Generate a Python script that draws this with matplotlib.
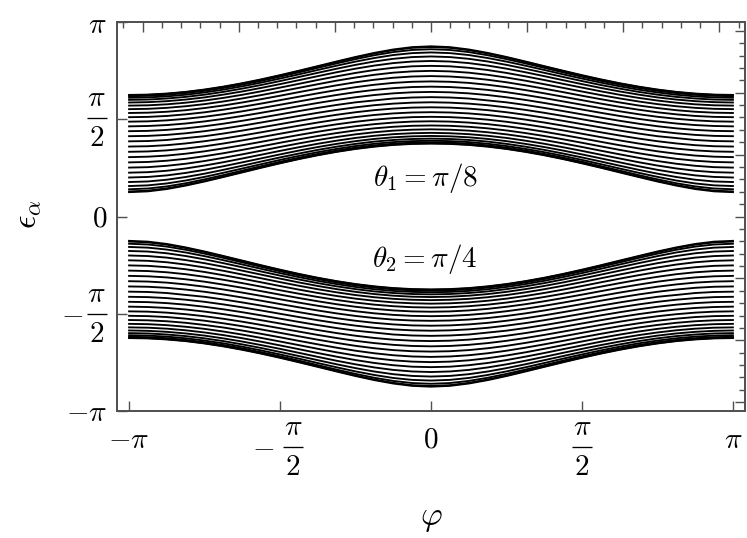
import numpy as np
import matplotlib.pyplot as plt
from matplotlib.ticker import MultipleLocator
from matplotlib.transforms import offset_copy

plt.rcParams['mathtext.fontset'] = 'cm'
plt.rcParams['font.family'] = 'DejaVu Serif'

# phi nodes from 0 to pi in steps of pi/16 (every line is even in phi, mirrored below)
phi_nodes = np.array([0, 1, 2, 3, 4, 5, 6, 7, 8, 9, 10, 11, 12, 13, 14, 15, 16]) * np.pi / 16

# epsilon of each line of the upper band, read at the phi nodes
upper_band = [
    [1.178, 1.172, 1.156, 1.128, 1.091, 1.044, 0.989, 0.927, 0.859, 0.787, 0.712, 0.638, 0.565, 0.499, 0.443, 0.406, 0.393],
    [1.183, 1.178, 1.161, 1.134, 1.096, 1.049, 0.995, 0.933, 0.865, 0.794, 0.720, 0.645, 0.574, 0.509, 0.455, 0.418, 0.405],
    [1.199, 1.193, 1.176, 1.149, 1.112, 1.066, 1.011, 0.950, 0.884, 0.813, 0.741, 0.669, 0.600, 0.537, 0.486, 0.452, 0.440],
    [1.224, 1.218, 1.202, 1.175, 1.138, 1.092, 1.039, 0.979, 0.914, 0.845, 0.775, 0.706, 0.640, 0.581, 0.534, 0.503, 0.492],
    [1.258, 1.252, 1.236, 1.210, 1.173, 1.128, 1.076, 1.017, 0.954, 0.888, 0.820, 0.754, 0.692, 0.638, 0.594, 0.566, 0.557],
    [1.301, 1.295, 1.279, 1.253, 1.217, 1.173, 1.122, 1.065, 1.003, 0.939, 0.875, 0.812, 0.754, 0.704, 0.664, 0.639, 0.630],
    [1.351, 1.345, 1.330, 1.304, 1.269, 1.225, 1.175, 1.119, 1.060, 0.998, 0.937, 0.877, 0.823, 0.776, 0.739, 0.716, 0.708],
    [1.408, 1.402, 1.387, 1.361, 1.327, 1.284, 1.235, 1.181, 1.123, 1.063, 1.004, 0.948, 0.896, 0.852, 0.819, 0.797, 0.790],
    [1.470, 1.465, 1.449, 1.424, 1.390, 1.348, 1.300, 1.247, 1.191, 1.133, 1.076, 1.022, 0.974, 0.932, 0.901, 0.881, 0.874],
    [1.538, 1.533, 1.517, 1.492, 1.458, 1.417, 1.369, 1.317, 1.262, 1.206, 1.151, 1.100, 1.053, 1.014, 0.984, 0.966, 0.959],
    [1.610, 1.605, 1.589, 1.564, 1.530, 1.489, 1.442, 1.391, 1.337, 1.282, 1.229, 1.179, 1.134, 1.097, 1.068, 1.051, 1.045],
    [1.685, 1.680, 1.665, 1.640, 1.606, 1.565, 1.518, 1.467, 1.414, 1.360, 1.308, 1.259, 1.216, 1.180, 1.152, 1.135, 1.130],
    [1.764, 1.759, 1.743, 1.718, 1.684, 1.643, 1.596, 1.545, 1.492, 1.439, 1.388, 1.340, 1.297, 1.267, 1.236, 1.219, 1.214],
    [1.845, 1.839, 1.823, 1.798, 1.763, 1.722, 1.675, 1.624, 1.571, 1.518, 1.467, 1.420, 1.378, 1.344, 1.318, 1.302, 1.297],
    [1.928, 1.922, 1.906, 1.875, 1.844, 1.802, 1.754, 1.703, 1.650, 1.597, 1.546, 1.499, 1.458, 1.424, 1.399, 1.383, 1.378],
    [2.012, 2.006, 1.989, 1.962, 1.926, 1.883, 1.834, 1.782, 1.728, 1.675, 1.624, 1.577, 1.536, 1.502, 1.477, 1.462, 1.456],
    [2.097, 2.091, 2.073, 2.045, 2.008, 1.963, 1.913, 1.859, 1.805, 1.751, 1.699, 1.652, 1.611, 1.578, 1.553, 1.537, 1.532],
    [2.182, 2.176, 2.158, 2.128, 2.089, 2.042, 1.990, 1.935, 1.879, 1.824, 1.772, 1.725, 1.683, 1.650, 1.624, 1.609, 1.604],
    [2.268, 2.261, 2.241, 2.209, 2.168, 2.119, 2.065, 2.009, 1.951, 1.895, 1.842, 1.793, 1.752, 1.717, 1.692, 1.677, 1.672],
    [2.352, 2.344, 2.323, 2.289, 2.245, 2.194, 2.137, 2.078, 2.019, 1.961, 1.907, 1.858, 1.815, 1.781, 1.755, 1.739, 1.734],
    [2.433, 2.426, 2.402, 2.366, 2.319, 2.264, 2.205, 2.143, 2.082, 2.022, 1.966, 1.916, 1.873, 1.838, 1.812, 1.796, 1.791],
    [2.512, 2.503, 2.478, 2.438, 2.388, 2.330, 2.267, 2.202, 2.138, 2.077, 2.020, 1.969, 1.924, 1.889, 1.863, 1.847, 1.841],
    [2.585, 2.575, 2.547, 2.504, 2.449, 2.387, 2.321, 2.254, 2.188, 2.124, 2.066, 2.013, 1.968, 1.932, 1.906, 1.889, 1.884],
    [2.650, 2.639, 2.608, 2.560, 2.502, 2.436, 2.367, 2.296, 2.228, 2.163, 2.103, 2.049, 2.004, 1.967, 1.940, 1.924, 1.918],
    [2.702, 2.690, 2.656, 2.605, 2.542, 2.473, 2.401, 2.328, 2.258, 2.191, 2.130, 2.076, 2.030, 1.993, 1.965, 1.949, 1.943],
    [2.737, 2.724, 2.687, 2.633, 2.568, 2.496, 2.422, 2.348, 2.276, 2.209, 2.147, 2.092, 2.046, 2.008, 1.981, 1.964, 1.958],
    [2.749, 2.736, 2.698, 2.643, 2.577, 2.504, 2.429, 2.355, 2.283, 2.215, 2.153, 2.098, 2.051, 2.013, 1.986, 1.969, 1.964],
]

tick_pos = [-np.pi, -np.pi / 2, 0, np.pi / 2, np.pi]
# (sign, text or None for a pi/2 fraction)
tick_labels = [('-', r'\pi'), ('-', None), ('', '0'), ('', None), ('', r'\pi')]

frame_color = '#505050'
fs = 21

fig = plt.figure(figsize=(7.47, 5.38), dpi=100)
ax = fig.add_axes([117 / 747, 1 - 411 / 538, 628 / 747, 389 / 538])

phi_full = np.concatenate([-phi_nodes[:0:-1], phi_nodes])
for row in upper_band:
    row = np.array(row)
    eps = np.concatenate([row[:0:-1], row])
    ax.plot(phi_full, eps, color='black', lw=1.35)
    # lower band is the mirror image of the upper one
    ax.plot(phi_full, -eps, color='black', lw=1.35)

pad = 0.04 * np.pi
ax.set_xlim(-np.pi - pad, np.pi + pad)
ax.set_ylim(-np.pi, np.pi)

ax.set_xticks(tick_pos)
ax.set_yticks(tick_pos)
ax.set_xticklabels([])
ax.set_yticklabels([])
ax.tick_params(direction='in', length=7, width=1, color=frame_color,
               top=False, right=False)

# unlabelled ticks on top and right
axt = ax.twiny()
axt.set_xlim(ax.get_xlim())
axt.xaxis.set_major_locator(MultipleLocator(1))
axt.xaxis.set_minor_locator(MultipleLocator(0.2))
axt.tick_params(which='both', direction='in', width=1, color=frame_color, labeltop=False)
axt.tick_params(which='major', length=7)
axt.tick_params(which='minor', length=4)

axr = ax.twinx()
axr.set_ylim(ax.get_ylim())
axr.yaxis.set_major_locator(MultipleLocator(1))
axr.yaxis.set_minor_locator(MultipleLocator(0.2))
axr.tick_params(which='both', direction='in', width=1, color=frame_color, labelright=False)
axr.tick_params(which='major', length=7)
axr.tick_params(which='minor', length=4)

for a in (ax, axt, axr):
    for s in a.spines.values():
        s.set_color(frame_color)
        s.set_linewidth(1.1)


def put(x, y, base, dx, dy, s, ha='center'):
    tr = offset_copy(base, fig=fig, x=dx, y=dy, units='dots')
    ax.text(x, y, s, transform=tr, ha=ha, va='center', fontsize=fs)


def frac(x, y, base, dx, dy):
    # pi over 2, stacked Mathematica style
    put(x, y, base, dx, dy + 20, r'$\pi$')
    put(x, y, base, dx, dy - 20, r'$2$')
    tr = offset_copy(base, fig=fig, x=dx, y=dy, units='dots')
    ax.plot([x], [y], marker='_', ms=15, mew=0.95, color='black',
            transform=tr, clip_on=False)


xb = ax.get_xaxis_transform()
yb = ax.get_yaxis_transform()
for t, (sign, txt) in zip(tick_pos, tick_labels):
    # bottom labels
    if txt is None:
        if sign:
            put(t, 0, xb, -17, -36, r'$-$')
            frac(t, 0, xb, 13, -36)
        else:
            frac(t, 0, xb, 0, -36)
    else:
        put(t, 0, xb, 0, -29, '$' + sign + txt + '$')
    # left labels
    if txt is None:
        if sign:
            put(0, t, yb, -45, 0, r'$-$')
        frac(0, t, yb, -20.5, 1 if not sign else 0)
    else:
        put(0, t, yb, -10, -2 if txt != r'\pi' or sign else -3, '$' + sign + txt + '$', ha='right')

ax.text(-0.06, 0.614, r'$\theta_1 = \pi/8$', ha='center', va='center', fontsize=21)
ax.text(-0.06, -0.68, r'$\theta_2 = \pi/4$', ha='center', va='center', fontsize=21)

fig.text(431 / 747, 1 - 518 / 538, r'$\varphi$', ha='center', va='center', fontsize=24)
fig.text(28 / 747, 1 - 214 / 538, r'$\epsilon_\alpha$', rotation=90, ha='center', va='center', fontsize=24)

fig.savefig('out.png', dpi=100)
